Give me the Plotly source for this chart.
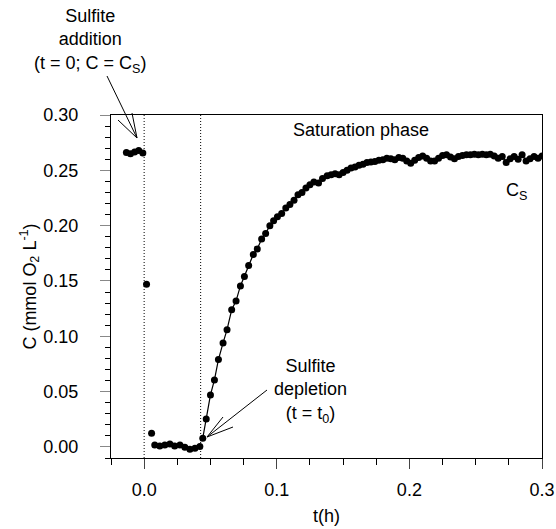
import plotly.graph_objects as go

# --- data ---
t_pre = [-0.0134, -0.0103, -0.0072, -0.0041, -0.0010]
c_pre = [0.2660, 0.2649, 0.2666, 0.2680, 0.2657]

t_drop = [0.0018, 0.0056, 0.0080, 0.0118, 0.0156, 0.0194, 0.0230, 0.0270, 0.0307, 0.0345, 0.0383, 0.0420]
c_drop = [0.147, 0.0124, 0.0018, 0.0009, 0.0018, 0.0027, 0.0009, 0.0018, -0.0003, -0.0020, -0.0012, 0.0003]

t_rise = [0.0442, 0.0468, 0.0500, 0.0530, 0.0560, 0.0595, 0.0625, 0.0660, 0.0693, 0.0726,
          0.0756, 0.0788, 0.0823, 0.0853, 0.0886, 0.0916, 0.0948, 0.0976, 0.1005, 0.1037,
          0.1068, 0.1099, 0.1130, 0.1160, 0.1190, 0.1220, 0.1250, 0.1280, 0.1315, 0.1345,
          0.1380, 0.1410, 0.1440, 0.1470, 0.1500, 0.1530, 0.1560, 0.1590, 0.1620, 0.1650,
          0.1680, 0.1710, 0.1740, 0.1770, 0.1800, 0.1830, 0.1860, 0.1890, 0.1920, 0.1950,
          0.1980, 0.2010, 0.2040, 0.2070, 0.2100, 0.2130, 0.2160, 0.2190, 0.2220, 0.2250,
          0.2280, 0.2310, 0.2340, 0.2370, 0.2400, 0.2430, 0.2460, 0.2490, 0.2520, 0.2550,
          0.2580, 0.2610, 0.2640, 0.2670, 0.2700, 0.2730, 0.2760, 0.2790, 0.2820, 0.2850,
          0.2880, 0.2910, 0.2940, 0.2970, 0.3000]
c_rise = [0.0079, 0.0253, 0.0470, 0.0606, 0.0790, 0.0940, 0.1060, 0.1240, 0.1320, 0.1455,
          0.1540, 0.1640, 0.1740, 0.1790, 0.1880, 0.1930, 0.2000, 0.2045, 0.2080, 0.2110,
          0.2160, 0.2190, 0.2230, 0.2280, 0.2300, 0.2340, 0.2370, 0.2395, 0.2385, 0.2425,
          0.2450, 0.2460, 0.2470, 0.2460, 0.2480, 0.2500, 0.2520, 0.2530, 0.2545, 0.2555,
          0.2570, 0.2575, 0.2580, 0.2590, 0.2595, 0.2610, 0.2605, 0.2595, 0.2615, 0.2610,
          0.2585, 0.2565, 0.2590, 0.2615, 0.2630, 0.2610, 0.2585, 0.2585, 0.2610, 0.2635,
          0.2640, 0.2620, 0.2605, 0.2625, 0.2635, 0.2640, 0.2640, 0.2645, 0.2640, 0.2645,
          0.2640, 0.2645, 0.2630, 0.2610, 0.2625, 0.2570, 0.2605, 0.2625, 0.2600, 0.2640,
          0.2585, 0.2605, 0.2625, 0.2610, 0.2630]

t_add = 0.0
t_dep = 0.0426

x_ticks = [0.0, 0.1, 0.2, 0.3]
y_ticks = [0.00, 0.05, 0.10, 0.15, 0.20, 0.25, 0.30]

FONT = "Liberation Sans, Arial, sans-serif"
FS = 18

W, H = 556, 529
ML, MR, MT, MB = 111, 14, 115, 71
PW, PH = W - ML - MR, H - MT - MB


def px(xp):  # pixel x -> paper x
    return (xp - ML) / PW


def py(yp):  # pixel y -> paper y
    return (H - MB - yp) / PH


fig = go.Figure()
mk = dict(color="black", size=7)
fig.add_trace(go.Scatter(x=t_pre, y=c_pre, mode="markers", marker=mk, showlegend=False))
fig.add_trace(go.Scatter(x=t_drop, y=c_drop, mode="markers", marker=mk, showlegend=False))
fig.add_trace(go.Scatter(x=t_rise, y=c_rise, mode="lines+markers", marker=mk,
                         line=dict(color="black", width=1.2), showlegend=False))

for xv in (t_add, t_dep):
    fig.add_shape(type="line", x0=xv, x1=xv, y0=0, y1=1, xref="x", yref="paper",
                  line=dict(color="black", width=1, dash="1px,2px"))

# arrows (pixel layout positions -> paper)
arrow_segments = [
    ((137, 138), (107, 76)), ((137, 138), (118, 120)), ((137, 138), (132, 113)),
    ((207, 437), (267, 390)), ((207, 437), (223, 417)), ((207, 437), (233, 427)),
]
for (x0, y0), (x1, y1) in arrow_segments:
    fig.add_shape(type="line", xref="paper", yref="paper",
                  x0=px(x0), y0=py(y0), x1=px(x1), y1=py(y1),
                  line=dict(color="black", width=1))

tf = dict(size=FS, family=FONT, color="black")
common = dict(xref="paper", yref="paper", showarrow=False, xanchor="center",
              yanchor="middle", align="center", font=tf)
fig.add_annotation(text="Sulfite<br>addition<br>(t = 0; C = C<sub>S</sub>)",
                   x=px(90), y=py(41), **common)
fig.add_annotation(text="Sulfite<br>depletion<br>(t = t<sub>0</sub>)",
                   x=px(310), y=py(391), **common)
fig.add_annotation(text="Saturation phase", x=px(361), y=py(130), **common)
fig.add_annotation(text="C<sub>S</sub>", x=px(516), y=py(191), **common)

fig.update_xaxes(range=[-0.025, 0.3], tickvals=x_ticks, ticktext=[f"{v:.1f}" for v in x_ticks],
                 ticks="outside", ticklen=10, tickcolor="#444", tickwidth=1,
                 showline=True, linecolor="black", linewidth=1, mirror=True,
                 showgrid=False, zeroline=False, ticklabelstandoff=5, automargin=False,
                 minor=dict(dtick=0.025, tick0=0, ticks="outside", ticklen=6, tickcolor="black"),
                 title=dict(text="t(h)", font=tf, standoff=10),
                 tickfont=tf)
fig.update_yaxes(range=[-0.01, 0.30], tickvals=y_ticks, ticktext=[f"{v:.2f}" for v in y_ticks],
                 ticks="outside", ticklen=10, tickcolor="#888", tickwidth=1,
                 showline=True, linecolor="black", linewidth=1, mirror=True,
                 showgrid=False, zeroline=False, ticklabelstandoff=18, automargin=False,
                 minor=dict(dtick=0.01, tick0=0, ticks="outside", ticklen=5, tickcolor="black"),
                 title=dict(text="C (mmol O<sub>2</sub> L<sup>-1</sup>)", font=tf, standoff=2),
                 tickfont=tf)

fig.update_layout(width=W, height=H, margin=dict(l=ML, r=MR, t=MT, b=MB),
                  plot_bgcolor="white", paper_bgcolor="white",
                  font=dict(family=FONT, color="black"))

fig.write_html("out.html")
